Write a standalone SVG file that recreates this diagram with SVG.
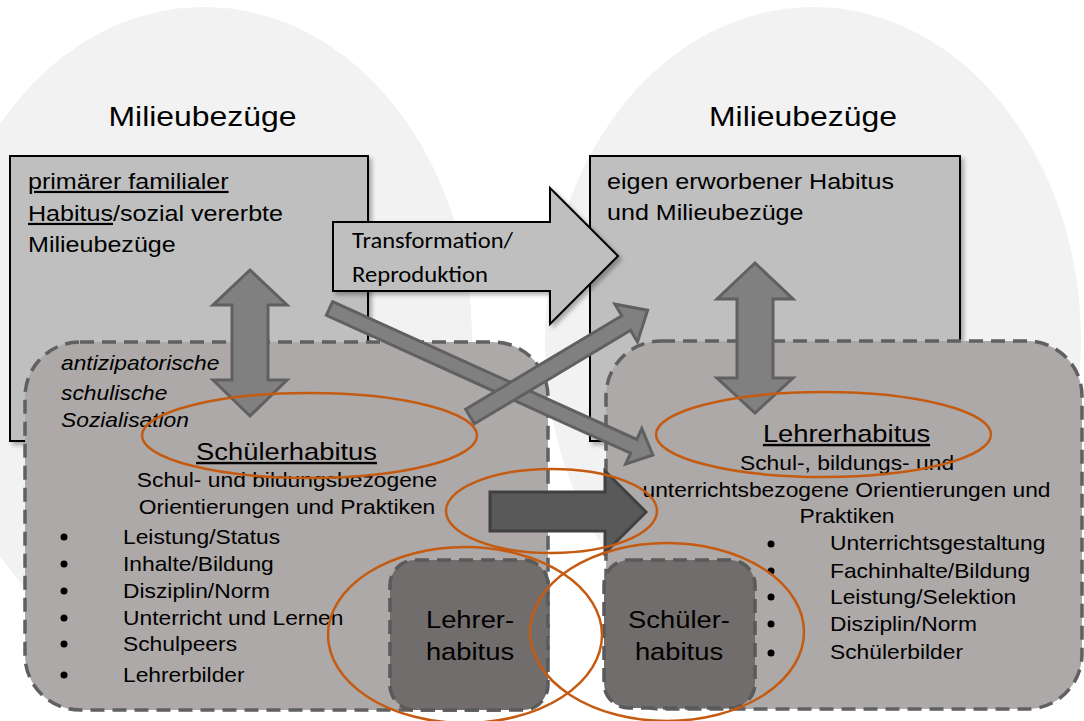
<svg xmlns="http://www.w3.org/2000/svg" width="1084" height="721" viewBox="0 0 1084 721">
<style>
.t{font-family:"Liberation Sans",Arial,sans-serif;fill:#000}
.c{font-family:Carlito,Lato,"Liberation Sans",sans-serif;fill:#000}
.bg{fill:#f2f2f2}
.pbox{fill:#bfbfbf;stroke:#000;stroke-width:2}
.dbox{fill:#ada9a8;stroke:#606060;stroke-width:3.5;stroke-dasharray:14 8}
.sbox{fill:#716d6c;stroke:#5a5a5a;stroke-width:3.5;stroke-dasharray:14 8}
.garrow{fill:#808080;stroke:#606060;stroke-width:3;stroke-linejoin:miter}
.darrow{fill:#595959;stroke:#404040;stroke-width:3}
.ov{fill:none;stroke:#c55a11;stroke-width:2.5}
.u{text-decoration:underline}
</style>
<defs>
<filter id="sh" x="-10%" y="-10%" width="120%" height="120%">
<feDropShadow dx="3" dy="3" stdDeviation="2" flood-color="#000" flood-opacity="0.3"/>
</filter>
</defs>
<g id="background">
<ellipse class="bg" cx="204" cy="340" rx="268" ry="333"/>
<ellipse class="bg" cx="813" cy="340" rx="268" ry="333"/>
</g>
<g id="heading-left"><text class="t" font-size="28" text-anchor="middle" transform="translate(202.5,126) scale(1.14,1)">Milieubezüge</text></g>
<g id="heading-right"><text class="t" font-size="28" text-anchor="middle" transform="translate(803,126) scale(1.14,1)">Milieubezüge</text></g>
<g id="primary-habitus">
<rect class="pbox" x="10" y="156" width="358" height="285" filter="url(#sh)"/>
<text class="t" font-size="22" transform="translate(28,189) scale(1.14,1)"><tspan class="u">primärer familialer</tspan></text>
<text class="t" font-size="22" transform="translate(28,221) scale(1.14,1)"><tspan class="u">Habitus</tspan>/sozial vererbte</text>
<text class="t" font-size="22" transform="translate(28,252) scale(1.14,1)">Milieubezüge</text>
</g>
<g id="acquired-habitus">
<rect class="pbox" x="590" y="156" width="370" height="285" filter="url(#sh)"/>
<text class="t" font-size="22" transform="translate(607,189) scale(1.14,1)">eigen erworbener Habitus</text>
<text class="t" font-size="22" transform="translate(607,220) scale(1.14,1)">und Milieubezüge</text>
</g>
<g id="transformation">
<polygon class="pbox" points="333,222 550,222 550,188 618,256 550,324 550,291 333,291" filter="url(#sh)"/>
<text class="c" font-size="22" x="352" y="248" textLength="161" lengthAdjust="spacingAndGlyphs">Transformation/</text>
<text class="c" font-size="22" x="352" y="282" textLength="136" lengthAdjust="spacingAndGlyphs">Reproduktion</text>
</g>
<g id="school-socialisation">
<rect class="dbox" x="25" y="342" width="523" height="368" rx="55" ry="55"/>
<text class="t" font-size="20" font-style="italic" transform="translate(61,370) scale(1.14,1)">antizipatorische</text>
<text class="t" font-size="20" font-style="italic" transform="translate(61,400) scale(1.14,1)">schulische</text>
<text class="t" font-size="20" font-style="italic" transform="translate(61,427) scale(1.14,1)">Sozialisation</text>
</g>
<g id="teacher-context">
<rect class="dbox" x="606" y="341" width="476" height="368" rx="55" ry="55"/>
</g>
<g id="connectors">
<polygon class="garrow" points="250,270 287,305 268,305 268,380 287,380 250,416 213,380 232,380 232,305 213,305"/>
<polygon class="garrow" points="755,263 793,299 773,299 773,378 793,378 755,413 717,378 737,378 737,299 717,299"/>
</g>
<g id="schuelerhabitus-text">
<text class="t u" font-size="24" text-anchor="middle" transform="translate(286.5,460) scale(1.14,1)">Schülerhabitus</text>
<text class="t" font-size="20" text-anchor="middle" transform="translate(287,487) scale(1.14,1)">Schul- und bildungsbezogene</text>
<text class="t" font-size="20" text-anchor="middle" transform="translate(287,514) scale(1.14,1)">Orientierungen und Praktiken</text>
<g fill="#000">
<circle cx="64" cy="537" r="3.5"/><circle cx="64" cy="564" r="3.5"/><circle cx="64" cy="591" r="3.5"/>
<circle cx="64" cy="618" r="3.5"/><circle cx="64" cy="644" r="3.5"/><circle cx="64" cy="675" r="3.5"/>
</g>
<text class="t" font-size="20" transform="translate(123,544) scale(1.14,1)">Leistung/Status</text>
<text class="t" font-size="20" transform="translate(123,571) scale(1.14,1)">Inhalte/Bildung</text>
<text class="t" font-size="20" transform="translate(123,598) scale(1.14,1)">Disziplin/Norm</text>
<text class="t" font-size="20" transform="translate(123,625) scale(1.14,1)">Unterricht und Lernen</text>
<text class="t" font-size="20" transform="translate(123,651) scale(1.14,1)">Schulpeers</text>
<text class="t" font-size="20" transform="translate(123,682) scale(1.14,1)">Lehrerbilder</text>
</g>
<g id="lehrerhabitus-text">
<text class="t u" font-size="24" text-anchor="middle" transform="translate(846.5,442) scale(1.14,1)">Lehrerhabitus</text>
<text class="t" font-size="20" text-anchor="middle" transform="translate(847,470) scale(1.14,1)">Schul-, bildungs- und</text>
<text class="t" font-size="20" text-anchor="middle" transform="translate(846.5,497) scale(1.14,1)">unterrichtsbezogene Orientierungen und</text>
<text class="t" font-size="20" text-anchor="middle" transform="translate(847,523) scale(1.14,1)">Praktiken</text>
<g fill="#000">
<circle cx="771" cy="544" r="3.5"/><circle cx="771" cy="571" r="3.5"/><circle cx="771" cy="597" r="3.5"/>
<circle cx="771" cy="624" r="3.5"/><circle cx="771" cy="653" r="3.5"/>
</g>
<text class="t" font-size="20" transform="translate(830,550) scale(1.14,1)">Unterrichtsgestaltung</text>
<text class="t" font-size="20" transform="translate(830,578) scale(1.14,1)">Fachinhalte/Bildung</text>
<text class="t" font-size="20" transform="translate(830,604) scale(1.14,1)">Leistung/Selektion</text>
<text class="t" font-size="20" transform="translate(830,631) scale(1.14,1)">Disziplin/Norm</text>
<text class="t" font-size="20" transform="translate(830,659) scale(1.14,1)">Schülerbilder</text>
</g>
<g id="small-lehrerhabitus">
<rect class="sbox" x="390" y="560" width="158" height="150" rx="25" ry="25"/>
<text class="t" font-size="24" text-anchor="middle" transform="translate(470,628) scale(1.14,1)">Lehrer-</text>
<text class="t" font-size="24" text-anchor="middle" transform="translate(470,660) scale(1.14,1)">habitus</text>
</g>
<g id="small-schuelerhabitus">
<rect class="sbox" x="604" y="560" width="151" height="148" rx="25" ry="25"/>
<text class="t" font-size="24" text-anchor="middle" transform="translate(679,628) scale(1.14,1)">Schüler-</text>
<text class="t" font-size="24" text-anchor="middle" transform="translate(679,660) scale(1.14,1)">habitus</text>
</g>
<g id="connectors-diagonal">
<polygon class="garrow" transform="translate(329.5,308.5) rotate(24.37)" points="0,-7.5 334,-7.5 334,-19.5 355,0 334,19.5 334,7.5 0,7.5"/>
<polygon class="garrow" transform="translate(470,416.5) rotate(-30.9)" points="0,-8.5 182,-8.5 182,-22 207,0 182,22 182,8.5 0,8.5"/>
<polygon class="darrow" points="490,492 605,492 605,471 646,512 605,553 605,531 490,531"/>
</g>
<g id="highlights">
<ellipse class="ov" cx="309.5" cy="435.5" rx="167.5" ry="42.5"/>
<ellipse class="ov" cx="823.5" cy="434.5" rx="167.5" ry="42.5"/>
<ellipse class="ov" cx="551.5" cy="511" rx="105.5" ry="42"/>
<ellipse class="ov" cx="465" cy="635" rx="137" ry="88"/>
<ellipse class="ov" cx="667" cy="632" rx="137" ry="89"/>
</g>
</svg>
